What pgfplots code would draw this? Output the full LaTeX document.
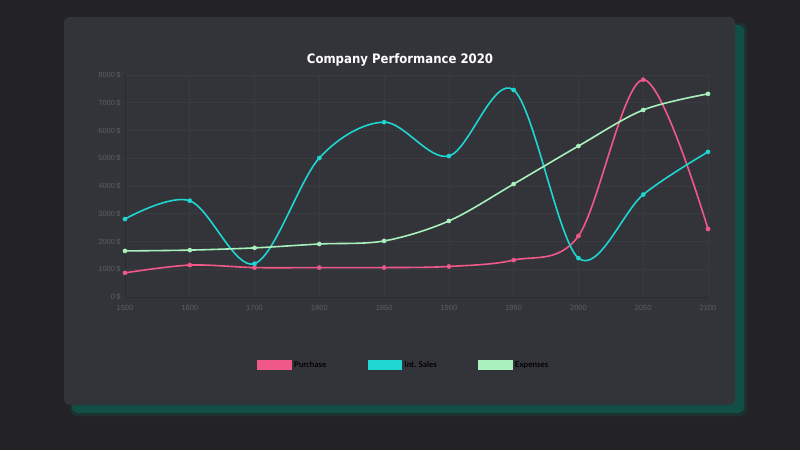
\documentclass[border=0pt]{standalone}
\usepackage{fontspec}
\setmainfont{Liberation Sans}
\newfontfamily\titlefont{DejaVu Sans Condensed}
\newfontfamily\legendfont{Lato}
\usepackage{pgfplots}
\pgfplotsset{compat=1.18}
\definecolor{bgc}{RGB}{35,35,39}
\definecolor{cardc}{RGB}{51,52,57}
\definecolor{shadowc}{RGB}{16,78,70}
\definecolor{gridc}{RGB}{58,59,64}
\definecolor{axisc}{RGB}{42,43,47}
\definecolor{tickc}{RGB}{92,94,99}
\definecolor{pinkc}{RGB}{240,88,138}
\definecolor{cyanc}{RGB}{30,214,210}
\definecolor{greenc}{RGB}{168,240,188}
\begin{document}
\begin{tikzpicture}
\useasboundingbox (0pt,0pt) rectangle (800pt,450pt);
\fill[bgc] (0pt,0pt) rectangle (800pt,450pt);
\fill[shadowc,opacity=0.35,rounded corners=7pt] (70pt,34pt) rectangle (747pt,427pt);
\fill[shadowc,rounded corners=6pt] (72pt,37pt) rectangle (744pt,425pt);
\fill[cardc,rounded corners=6pt] (64pt,45pt) rectangle (735pt,433pt);
\node[text=white,font=\titlefont\bfseries\fontsize{13}{16}\selectfont] at (400pt,390pt) {Company Performance 2020};
\begin{axis}[
  at={(125pt,153pt)}, anchor=south west,
  scale only axis, width=583pt, height=222pt,
  xmin=0, xmax=9, ymin=0, ymax=8000,
  xtick={0,...,9},
  xticklabels={1500,1600,1700,1800,1850,1900,1950,2000,2050,2100},
  ytick={0,1000,...,8000},
  yticklabel={\pgfmathprintnumber[fixed,set thousands separator={},assume math mode=true]{\tick}\,\$},
  /pgf/number format/assume math mode=true,
  scaled y ticks=false,
  tick label style={font=\fontsize{7.5}{9}\selectfont, text=tickc},
  xticklabel style={yshift=-5pt},
  yticklabel style={xshift=-1pt},
  major tick length=0pt,
  grid=major,
  grid style={gridc, line width=0.6pt},
  axis line style={axisc, line width=0.8pt},
  axis x line*=bottom, axis y line*=left,
  every axis plot/.append style={line width=1.6pt, smooth, tension=0.55},
  legend image code/.code={\fill[#1] (0pt,-4.3pt) rectangle (33pt,4.3pt);},
  legend style={at={(0.2213,-0.306)}, anchor=west, draw=none, fill=none,
    legend columns=3, font=\legendfont\bfseries\fontsize{8}{10}\selectfont, text=black,
    /tikz/every even column/.append style={column sep=39.5pt},
    nodes={inner xsep=2pt}},
  clip=false,
]
\addplot[pinkc, mark=*, mark size=2.1pt, mark options={solid, fill=pinkc, line width=0.4pt, tension=0.55}] coordinates {
(0,870) (1,1150) (2,1060) (3,1060) (4,1060) (5,1100) (6,1330) (7,2200) (8,7830) (9,2450)};
\addlegendentry{Purchase}
\addplot[cyanc, mark=*, mark size=2.1pt, mark options={solid, fill=cyanc, line width=0.4pt}] coordinates {
(0,2810) (1,3470) (2,1200) (3,5010) (4,6300) (5,5080) (6,7460) (7,1400) (8,3690) (9,5230)};
\addlegendentry{Int. Sales}
\addplot[greenc, mark=*, mark size=2.1pt, mark options={solid, fill=greenc, line width=0.4pt}] coordinates {
(0,1660) (1,1690) (2,1770) (3,1910) (4,2020) (5,2740) (6,4070) (7,5440) (8,6740) (9,7320)};
\addlegendentry{Expenses}
\end{axis}
\end{tikzpicture}
\end{document}
